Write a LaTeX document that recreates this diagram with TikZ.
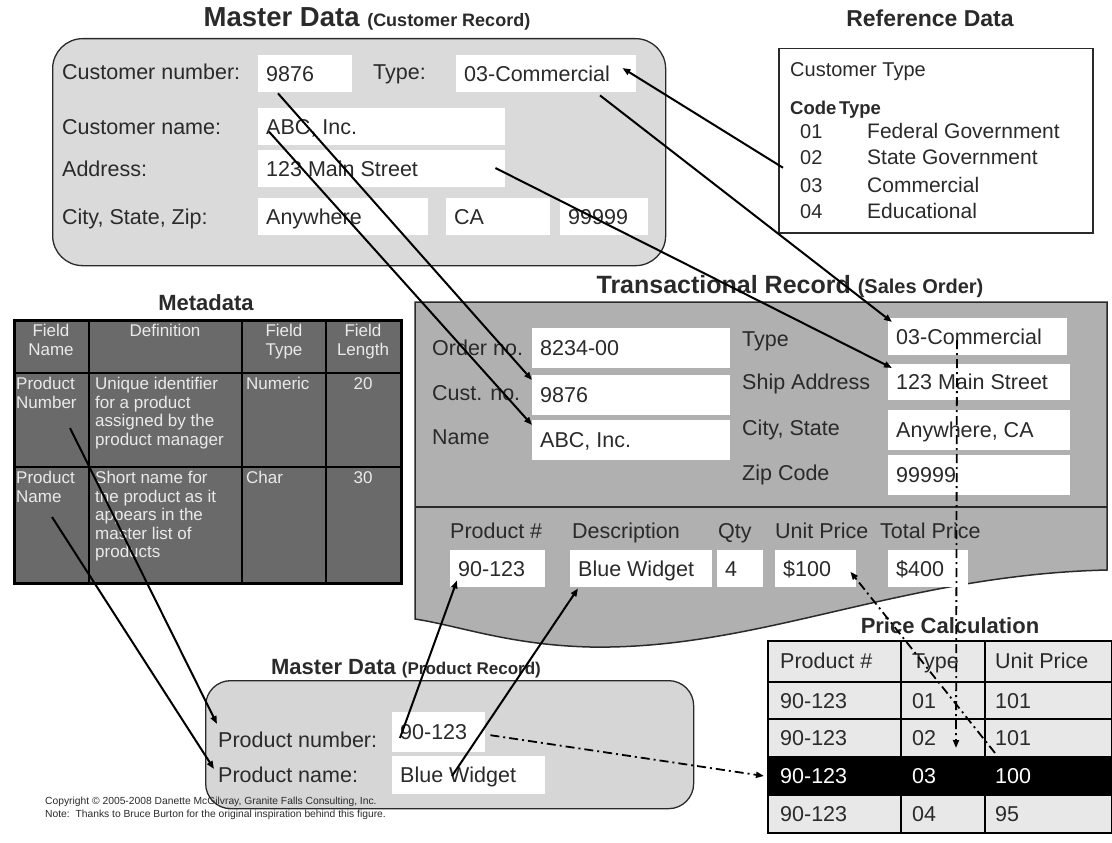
\documentclass[tikz,border=0pt]{standalone}
\usepackage{fontspec}
\setmainfont{Liberation Sans}
\usetikzlibrary{arrows.meta,calc}
\newcommand\fsz[2]{\fontsize{#1}{#2}\selectfont}
\newcommand\bx[2]{\makebox[#1pt][l]{#2}}
\definecolor{custgray}{HTML}{DADADA}
\definecolor{trgray}{HTML}{B0B0B0}
\definecolor{metagray}{HTML}{6A6A6A}
\definecolor{metatext}{HTML}{EAEAEA}
\definecolor{prodgray}{HTML}{D6D6D6}
\definecolor{pricegray}{HTML}{E8E8E8}
\definecolor{ink}{HTML}{2A2A2A}
\begin{document}
\begin{tikzpicture}[x=1pt,y=-1pt,
  lbl/.style={anchor=west, inner sep=0, text=ink, font=\fsz{21.5}{25}, text height=15pt, text depth=0pt},
  wb/.style={fill=white, anchor=north west, inner xsep=8pt, inner ysep=0pt, text=ink,
    font=\fsz{21.5}{25}, minimum height=37pt, text height=15pt, text depth=0pt},
  ttl/.style={anchor=base, inner sep=0, text=ink},
  mt/.style={anchor=north west, inner sep=0, text=metatext, font=\fsz{17}{18.5}, align=left},
  pt/.style={anchor=west, inner sep=0, text=ink, font=\fsz{21.5}{25}, text height=15pt, text depth=0pt},
  rt/.style={anchor=west, inner sep=0, text=ink, font=\fsz{20}{24}, text height=14pt, text depth=0pt},
  conn/.style={draw=black, line width=2pt, -{Triangle[length=8pt,width=6pt]}},
  dd/.style={conn, line width=1.8pt, dash pattern=on 9pt off 4pt on 2pt off 4pt}
]
\useasboundingbox (0,0) rectangle (1112,843);

% ---------- Master Data (Customer Record)
\node[ttl] (custtitle) at (367,27) {\fsz{27.5}{30}\bfseries Master Data \fsz{18}{22}(Customer Record)};
\node[draw=ink, line width=1.3pt, fill=custgray, rounded corners=30pt, anchor=north west,
  minimum width=613pt, minimum height=227pt, inner sep=0] (custrec) at (52,38) {};
\node[lbl] (lcnum) at (62,72) {Customer number:};
\node[wb] (cnum) at (258,55) {\bx{78}{9876}};
\node[lbl] (lctype) at (373,72) {Type:};
\node[wb] (ctype) at (456,55) {\bx{164}{03-Commercial}};
\node[lbl] (lcname) at (62,127) {Customer name:};
\node[wb] (cname) at (258,108) {\bx{231}{ABC, Inc.}};
\node[lbl] (lcaddr) at (62,169) {Address:};
\node[wb] (caddr) at (258,150) {\bx{231}{123 Main Street}};
\node[lbl] (lccity) at (62,217) {City, State, Zip:};
\node[wb] (ccity) at (258,198) {\bx{154}{Anywhere}};
\node[wb] (cstate) at (446,198) {\bx{88}{CA}};
\node[wb] (czip) at (560,198) {\bx{72}{99999}};

% ---------- Reference Data
\node[ttl] (reftitle) at (930,27) {\fsz{23}{27}\bfseries Reference Data};
\node[draw=ink, line width=1.5pt, fill=white, anchor=north west, minimum width=314pt,
  minimum height=184pt, inner sep=0] (refbox) at (778,48) {};
\node[rt] (rct) at (790,70) {Customer Type};
\node[rt, font=\fsz{18.5}{22}\bfseries] (rcode) at (790,107) {Code};
\node[rt, font=\fsz{18.5}{22}\bfseries] (rtype) at (839,107) {Type};
\node[rt] (r1a) at (800,131) {01};
\node[rt, font=\fsz{21}{24}] (r1b) at (867,131) {Federal Government};
\node[rt] (r2a) at (800,157) {02};
\node[rt, font=\fsz{21}{24}] (r2b) at (867,157) {State Government};
\node[rt] (r3a) at (800,185) {03};
\node[rt, font=\fsz{21}{24}] (r3b) at (867,185) {Commercial};
\node[rt] (r4a) at (800,211) {04};
\node[rt, font=\fsz{21}{24}] (r4b) at (867,211) {Educational};

% ---------- Metadata
\node[ttl] (metatitle) at (206,310) {\fsz{22}{26}\bfseries Metadata};
\node[draw=black, line width=2.5pt, fill=metagray, anchor=north west, minimum width=387pt,
  minimum height=263pt, inner sep=0] (metatab) at (13,319) {};
\draw[line width=2pt] (89,319) -- (89,582) (242,319) -- (242,582) (326,319) -- (326,582);
\draw[line width=2pt] (13,373) -- (400,373) (13,467) -- (400,467);
\node[mt, anchor=north, align=center] (mh1) at (51,324) {Field\\Name};
\node[mt, anchor=north, align=center] (mh2) at (165,324) {Definition};
\node[mt, anchor=north, align=center] (mh3) at (284,324) {Field\\Type};
\node[mt, anchor=north, align=center] (mh4) at (363,324) {Field\\Length};
\node[mt] (mpnum) at (16,377) {Product\\Number};
\node[mt] (mpnumd) at (95,377) {Unique identifier\\for a product\\assigned by the\\product manager};
\node[mt] (mpnumt) at (246,377) {Numeric};
\node[mt, anchor=north] (mpnuml) at (363,377) {20};
\node[mt] (mpname) at (16,471) {Product\\Name};
\node[mt] (mpnamed) at (95,471) {Short name for\\the product as it\\appears in the\\master list of\\products};
\node[mt] (mpnamet) at (246,471) {Char};
\node[mt, anchor=north] (mpnamel) at (363,471) {30};

% ---------- Transactional Record
\node[ttl] (trtitle) at (790,293) {\fsz{25}{30}\bfseries Transactional Record \fsz{20}{24}(Sales Order)};
\path[draw=ink, line width=1.5pt, fill=trgray] (415,302) -- (1107,302) -- (1107,570)
  .. controls (900,575) and (760,650) .. (590,647) .. controls (510,645) and (460,626) .. (415,619) -- cycle;
\draw[ink, line width=1.5pt] (415,507) -- (1107,507);
\node[lbl] (ltord) at (432,348) {Order no.};
\node[wb, minimum height=40pt] (tord) at (532,328) {\bx{182}{8234-00}};
\node[lbl] (ltcust) at (432,393) {Cust. no.};
\node[wb, minimum height=40pt] (tcust) at (532,375) {\bx{182}{9876}};
\node[lbl] (ltname) at (432,437) {Name};
\node[wb, minimum height=40pt] (tname) at (532,420) {\bx{182}{ABC, Inc.}};
\node[lbl] (lttype) at (742,339) {Type};
\node[wb] (ttype) at (888,318) {\bx{163}{03-Commercial}};
\node[lbl] (ltship) at (742,382) {Ship Address};
\node[wb, minimum height=36pt] (tship) at (888,364) {\bx{166}{123 Main Street}};
\node[lbl] (ltcity) at (742,428) {City, State};
\node[wb, minimum height=40pt] (tcity) at (888,410) {\bx{166}{Anywhere, CA}};
\node[lbl] (ltzip) at (742,473) {Zip Code};
\node[wb, minimum height=40pt] (tzip) at (888,455) {\bx{166}{99999}};
\node[lbl] (ltprod) at (450,531) {Product \#};
\node[lbl] (ltdesc) at (572,531) {Description};
\node[lbl] (ltqty) at (718,531) {Qty};
\node[lbl] (ltunit) at (775,531) {Unit Price};
\node[lbl] (lttotal) at (880,531) {Total Price};
\node[wb] (tprod) at (450,550) {\bx{79}{90-123}};
\node[wb] (tdesc) at (570,550) {\bx{126}{Blue Widget}};
\node[wb] (tqty) at (717,550) {\bx{30}{4}};
\node[wb] (tunit) at (775,550) {\bx{65}{\$100}};
\node[wb] (ttotal) at (888,550) {\bx{64}{\$400}};

% ---------- Price Calculation
\node[ttl] (pctitle) at (950,633) {\fsz{22}{26}\bfseries Price Calculation};
\node[draw=black, line width=2.2pt, fill=pricegray, anchor=north west, minimum width=344pt,
  minimum height=192pt, inner sep=0] (pricetab) at (767,640) {};
\fill[black] (767,757) rectangle (1111,795);
\draw[line width=2pt] (767,682) -- (1111,682) (767,719) -- (1111,719) (767,757) -- (1111,757) (767,795) -- (1111,795);
\draw[line width=2pt] (901,640) -- (901,832) (985,640) -- (985,832);
\node[pt] (ph1) at (780,661) {Product \#};
\node[pt] (ph2) at (912,661) {Type};
\node[pt] (ph3) at (995,661) {Unit Price};
\node[pt] (pr1a) at (780,701) {90-123};
\node[pt] (pr1b) at (912,701) {01};
\node[pt] (pr1c) at (995,701) {101};
\node[pt] (pr2a) at (780,738) {90-123};
\node[pt] (pr2b) at (912,738) {02};
\node[pt] (pr2c) at (995,738) {101};
\node[pt, text=white] (pr3a) at (780,776) {90-123};
\node[pt, text=white] (pr3b) at (912,776) {03};
\node[pt, text=white] (pr3c) at (995,776) {100};
\node[pt] (pr4a) at (780,814) {90-123};
\node[pt] (pr4b) at (912,814) {04};
\node[pt] (pr4c) at (995,814) {95};

% ---------- Master Data (Product Record)
\node[ttl] (prodtitle) at (406,674) {\fsz{22}{26}\bfseries Master Data \fsz{17}{20}(Product Record)};
\node[draw=ink, line width=1.3pt, fill=prodgray, rounded corners=25pt, anchor=north west,
  minimum width=488pt, minimum height=128pt, inner sep=0] (prodrec) at (205,680) {};
\node[lbl] (lpnum) at (218,740) {Product number:};
\node[wb, minimum height=40pt] (pnum) at (392,712) {\bx{77}{90-123}};
\node[lbl] (lpname) at (218,775) {Product name:};
\node[wb, minimum height=38pt] (pname) at (392,756) {\bx{137}{Blue Widget}};

% ---------- Copyright
\node[anchor=north west, inner sep=0, text=ink, font=\fsz{10.3}{12.5}, align=left] (copy) at (45,797)
  {Copyright © 2005-2008 Danette McGilvray, Granite Falls Consulting, Inc.\\Note:\ \ Thanks to Bruce Burton for the original inspiration behind this figure.};

% ---------- Connectors
\draw[conn] ($(refbox.west)+(5,27)$) -- ($(ctype.north east)+(-14,13)$);
\draw[conn] ($(ctype.south west)+(144,3)$) -- ($(ttype.north west)+(4,4)$);
\draw[conn] ($(caddr.north east)+(-10,18)$) -- ($(tship.north west)+(4,4)$);
\draw[conn] ($(cnum.south west)+(20,1)$) -- ($(tcust.north west)+(0,5)$);
\draw[conn] ($(cname.west)+(11,5)$) -- ($(tname.north west)+(0,5)$);
\draw[conn] ($(mpnum.north west)+(54,51)$) -- ($(lpnum.west)+(-1,-16)$);
\draw[conn] ($(mpname.north west)+(36,46)$) -- ($(lpname.west)+(-4,-6)$);
\draw[conn] ($(pnum.north west)+(8,26)$) -- ($(tprod.south west)+(7,-7)$);
\draw[conn] ($(pname.north west)+(60,20)$) -- ($(tdesc.south west)+(8,1)$);
\draw[dd] ($(pnum.east)+(5,3)$) -- ($(pr3a.west)+(-16,0)$);
\draw[dd] ($(ttype.north west)+(69,22)$) -- ($(pr2b.west)+(44,10)$);
\draw[dd] ($(pr2c.west)+(0,15)$) -- ($(tunit.east)+(-6,3)$);
\end{tikzpicture}
\end{document}
